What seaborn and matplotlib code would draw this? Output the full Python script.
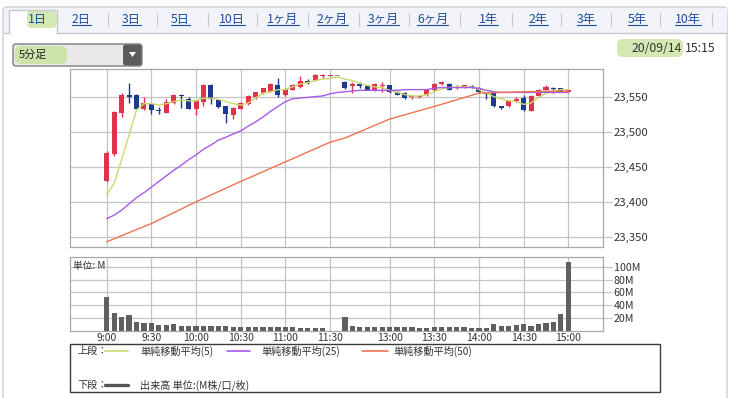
import numpy as np
import pandas as pd
import matplotlib
matplotlib.use("Agg")
import matplotlib.pyplot as plt
from matplotlib.patches import Rectangle, FancyBboxPatch, Polygon
import seaborn as sns

sns.set_style("white")
plt.rcParams["font.family"] = ["Noto Sans CJK JP", "DejaVu Sans"]

W, H = 738, 398

# ---------------- data ----------------
slots = list(range(63))
opens = [23430, 23468, 23526, 23552, 23553, 23533, 23539, 23531, 23527, 23541,
         23553, 23546, 23533, 23543, 23567, 23545, 23536, 23524, 23533, 23539,
         23549, 23555, 23557, 23566, 23552, 23560, 23564, 23573, 23574, 23579,
         23580, 23580, 23571, 23565, 23568, 23565, 23559, 23565, 23566, 23557,
         23555, 23549, 23550, 23552, 23559, 23568, 23568, 23562, 23564, 23565,
         23563, 23555, 23555, 23536, 23536, 23544, 23548, 23530, 23551, 23560,
         23562, 23562, 23557]
closes = [23470, 23528, 23552, 23550, 23533, 23541, 23531, 23529, 23543, 23553,
          23551, 23533, 23544, 23567, 23546, 23535, 23525, 23534, 23541, 23551,
          23556, 23562, 23568, 23552, 23561, 23567, 23572, 23569, 23581, 23580,
          23581, 23580, 23562, 23568, 23565, 23560, 23568, 23567, 23556, 23553,
          23548, 23551, 23551, 23560, 23568, 23571, 23560, 23564, 23566, 23564,
          23556, 23554, 23536, 23534, 23544, 23547, 23531, 23551, 23560, 23564,
          23561, 23557, 23560]
highs = [23472, 23530, 23555, 23570, 23554, 23550, 23540, 23535, 23546, 23554,
         23554, 23549, 23545, 23568, 23568, 23546, 23537, 23535, 23542, 23552,
         23557, 23563, 23569, 23576, 23562, 23568, 23580, 23575, 23582, 23582,
         23581, 23580, 23572, 23571, 23571, 23566, 23569, 23571, 23567, 23558,
         23556, 23553, 23552, 23561, 23569, 23572, 23569, 23566, 23567, 23567,
         23564, 23556, 23556, 23537, 23545, 23549, 23552, 23552, 23561, 23566,
         23564, 23563, 23561]
lows = [23428, 23466, 23521, 23541, 23531, 23531, 23525, 23525, 23526, 23540,
        23534, 23532, 23524, 23536, 23540, 23534, 23513, 23518, 23532, 23538,
        23546, 23554, 23556, 23550, 23551, 23559, 23563, 23568, 23573, 23577,
        23580, 23580, 23561, 23555, 23562, 23559, 23558, 23557, 23555, 23552,
        23547, 23546, 23548, 23551, 23558, 23567, 23559, 23561, 23562, 23562,
        23555, 23547, 23535, 23533, 23535, 23543, 23530, 23529, 23550, 23559,
        23555, 23556, 23556]

sma5 = [23410, 23426, 23460, 23495, 23531, 23540, 23540, 23538, 23540, 23543,
        23545, 23544, 23544, 23548, 23548, 23546, 23543, 23540, 23538, 23541,
        23548, 23555, 23557, 23560, 23560, 23564, 23568, 23570, 23573, 23575,
        23576, 23578, 23575, 23573, 23569, 23566, 23564, 23563, 23559, 23556,
        23553, 23551, 23551, 23553, 23557, 23561, 23563, 23564, 23564, 23564,
        23560, 23555, 23550, 23547, 23544, 23543, 23539, 23541, 23549, 23555,
        23558, 23560, 23560]
sma25 = [23376, 23381, 23388, 23397, 23406, 23413, 23421, 23429, 23437, 23445,
         23452, 23460, 23467, 23475, 23481, 23488, 23492, 23497, 23501, 23508,
         23514, 23521, 23529, 23536, 23543, 23547, 23548, 23549, 23550, 23551,
         23554, 23556, 23557, 23558, 23559, 23559, 23559, 23559, 23559, 23559,
         23560, 23560, 23560, 23560, 23562, 23563, 23563, 23563, 23563, 23563,
         23562, 23559, 23557, 23556, 23556, 23556, 23556, 23556, 23556, 23556,
         23556, 23556, 23556]
sma50_slots = [0, 6, 12, 18, 24, 30, 32, 38, 44, 50, 56, 62]
sma50 = [23343, 23369, 23400, 23429, 23457, 23485, 23491, 23518, 23536, 23555, 23557, 23558]

vol_slots = list(range(0, 30)) + list(range(32, 63))
volume = [52, 27, 21, 24, 13, 12, 12, 8.5, 8.5, 10,
          7.5, 7.5, 7.5, 6.4, 6.4, 7.5, 7.5, 5.3, 6, 6,
          5, 5, 6, 6, 5, 5, 4.5, 4.5, 4.5, 4.5,
          21, 7.5, 6, 5, 6, 6, 5, 5, 5, 5,
          4, 4, 5, 5, 5, 5, 5, 4.3, 4.3, 4.3,
          10.3, 6.5, 6.5, 8, 10.8, 7.6, 10.3, 12, 13.5, 25.4,
          107]

tick_slots = [0, 6, 12, 18, 24, 30, 38, 44, 50, 56, 62]
tick_labels = ["9:00", "9:30", "10:00", "10:30", "11:00", "11:30",
               "13:00", "13:30", "14:00", "14:30", "15:00"]
price_ticks = [23350, 23400, 23450, 23500, 23550]
vol_ticks = [20, 40, 60, 80, 100]
vol_tick_labels = ["20M", "40M", "60M", "80M", "100M"]

tabs = ["1日", "2日", "3日", "5日", "10日", "1ヶ月", "2ヶ月", "3ヶ月", "6ヶ月",
        "1年", "2年", "3年", "5年", "10年"]
tab_x = [37, 81.5, 131, 180.5, 232, 283, 332.5, 383, 432.5, 488, 538, 586, 637, 687.5]
sep_x = [107.5, 157, 207.5, 257, 307.5, 358.5, 408.5, 460, 512, 561, 611, 660, 712]

legend_names = ["単純移動平均(5)", "単純移動平均(25)", "単純移動平均(50)"]

RED = "#e2314a"
BLUE = "#1e3a8e"
GRAY = "#9a9a9a"
C5 = "#c9d96e"
C25 = "#a75be6"
C50 = "#ec7452"
GRID = "#c4c4c4"
FRAME = "#a8a8a8"
TXT = "#333333"


def rect(x0, y0, x1, y1):
    return [x0 / W, 1 - y1 / H, (x1 - x0) / W, (y1 - y0) / H]


fig = plt.figure(figsize=(W / 100, H / 100), dpi=100)
fig.patch.set_facecolor("white")

# ---------------- background / header layer ----------------
bg = fig.add_axes([0, 0, 1, 1], zorder=0)
bg.set_xlim(0, W)
bg.set_ylim(H, 0)
bg.axis("off")

# page container
bg.add_patch(FancyBboxPatch((3, 7), 724, 400, boxstyle="round,pad=0,rounding_size=4",
                            fc="white", ec="#c9ccd2", lw=1))
# tab bar
bg.add_patch(Rectangle((3.5, 7.5), 723, 25.5, fc="#f1f3f8", ec="none"))
bg.plot([3.5, 9], [33, 33], color="#c4c8d0", lw=1)
bg.plot([57, 726.5], [33, 33], color="#c4c8d0", lw=1)
bg.add_patch(Rectangle((9, 10), 48, 24, fc="white", ec="none"))
bg.plot([9, 9, 57, 57], [33, 10, 10, 33], color="#c4c8d0", lw=1)
# green highlight on selected tab
bg.add_patch(FancyBboxPatch((27, 10), 30, 18, boxstyle="round,pad=0,rounding_size=5",
                            fc="#cfe6ab", ec="none", alpha=0.9))

fig.canvas.draw()
renderer = fig.canvas.get_renderer()
for i, (lab, x) in enumerate(zip(tabs, tab_x)):
    col = "#1d4f9e"
    t = bg.text(x, 19, lab, ha="center", va="center", fontsize=8.8, color=col)
    if i > 0:
        bb = t.get_window_extent(renderer=renderer)
        yb = H - bb.y0
        bg.plot([bb.x0, bb.x1], [yb - 1, yb - 1], color=col, lw=0.8)
for x in sep_x:
    bg.plot([x, x], [13, 26], color="#c8c8c8", lw=0.8)

# dropdown
bg.add_patch(FancyBboxPatch((13, 44), 129, 22, boxstyle="round,pad=0,rounding_size=3",
                            fc="#e9e9e9", ec="#7d7d7d", lw=1))
bg.add_patch(FancyBboxPatch((123, 44.5), 18.5, 21, boxstyle="round,pad=0,rounding_size=2.5",
                            fc="#5b5b5b", ec="none"))
bg.add_patch(Polygon([[129, 52], [136, 52], [132.5, 57]], closed=True, fc="white", ec="none"))
bg.add_patch(FancyBboxPatch((15, 46), 52, 18, boxstyle="round,pad=0,rounding_size=6",
                            fc="#c9e3a2", ec="none", alpha=0.9))
bg.text(19, 55, "5分足", ha="left", va="center", fontsize=8, color="#222222")

# date
bg.add_patch(FancyBboxPatch((617, 39), 66, 18, boxstyle="round,pad=0,rounding_size=6",
                            fc="#cfe6ab", ec="none", alpha=0.9))
bg.text(682, 48, "20/09/14", ha="right", va="center", fontsize=8.8, color="#333333")
bg.text(685, 48, "15:15", ha="left", va="center", fontsize=8.8, color="#333333")

# legend box
bg.add_patch(Rectangle((70, 344), 590, 48, fc="white", ec="#3a3a3a", lw=1))
bg.text(77, 351, "上段：", ha="left", va="center", fontsize=7.3, color=TXT)
bg.text(77, 385, "下段：", ha="left", va="center", fontsize=7.3, color=TXT)
leg_line_x = [(105, 128), (227, 250), (362, 388)]
leg_text_x = [140, 261, 393]
for (x0, x1), tx, name, c in zip(leg_line_x, leg_text_x, legend_names, [C5, C25, C50]):
    bg.plot([x0, x1], [351, 351], color=c, lw=1.2)
    bg.text(tx, 351, name, ha="left", va="center", fontsize=7.3, color=TXT)
bg.plot([105, 128], [385, 385], color="#555555", lw=2.4)
bg.text(140, 385, "出来高 単位:(M株/口/枚)", ha="left", va="center", fontsize=7.3, color=TXT)

# ---------------- price panel ----------------
XLIM = (-4.93, 66.7)
axp = fig.add_axes(rect(70, 69.3, 603.3, 246.7), zorder=2)
axp.set_facecolor("white")
df = pd.DataFrame({"slot": slots, "open": opens, "close": closes, "high": highs, "low": lows})
cols = [RED if c > o else (BLUE if c < o else GRAY) for o, c in zip(df["open"], df["close"])]
body_lo = np.minimum(df["open"], df["close"])
body_h = np.maximum(np.abs(df["close"] - df["open"]), 1.3)
axp.vlines(df["slot"], df["low"], df["high"], colors=cols, lw=1, zorder=3)
axp.bar(df["slot"], body_h, bottom=body_lo, width=0.68, color=cols, lw=0, zorder=4)

sns.lineplot(x=slots, y=sma5, ax=axp, color=C5, lw=1.0, zorder=5)
sns.lineplot(x=slots, y=sma25, ax=axp, color=C25, lw=1.0, zorder=5)
sns.lineplot(x=sma50_slots, y=sma50, ax=axp, color=C50, lw=1.0, zorder=5)

axp.set_xlim(*XLIM)
axp.set_ylim(23336, 23589)
axp.set_xticks(tick_slots)
axp.set_xticklabels([])
axp.set_yticks(price_ticks)
axp.set_yticklabels([f"{v:,}" for v in price_ticks])
axp.yaxis.tick_right()
axp.tick_params(axis="x", length=0)
axp.tick_params(axis="y", length=6.5, width=0.8, color=GRID, labelsize=8.2, pad=1, labelcolor=TXT)
axp.grid(True, color=GRID, lw=0.9)
axp.set_axisbelow(True)
for s in axp.spines.values():
    s.set_color(FRAME)
    s.set_linewidth(0.9)
axp.set_xlabel("")
axp.set_ylabel("")

# ---------------- volume panel ----------------
axv = fig.add_axes(rect(70, 256.7, 603.3, 330.5), zorder=2)
axv.set_facecolor("white")
sns.barplot(x=vol_slots, y=volume, ax=axv, native_scale=True, color="#606060",
            saturation=1, width=0.7, errorbar=None, linewidth=0, zorder=3)
axv.set_xlim(*XLIM)
axv.set_ylim(0, 116)
axv.set_xticks(tick_slots)
axv.set_xticklabels(tick_labels)
axv.set_yticks(vol_ticks)
axv.set_yticklabels(vol_tick_labels)
axv.yaxis.tick_right()
axv.tick_params(axis="x", length=0, labelsize=7.5, pad=1.5, labelcolor=TXT)
axv.tick_params(axis="y", length=6.5, width=0.8, color=GRID, labelsize=7.7, pad=1, labelcolor=TXT)
axv.grid(True, color=GRID, lw=0.9)
axv.set_axisbelow(True)
for s in axv.spines.values():
    s.set_color(FRAME)
    s.set_linewidth(0.9)
axv.set_xlabel("")
axv.set_ylabel("")
axv.text(3 / 533.3, 0.87, "単位: M", transform=axv.transAxes, ha="left", va="center",
         fontsize=7, color=TXT, zorder=6)

fig.savefig("out.png", dpi=100, facecolor="white")
